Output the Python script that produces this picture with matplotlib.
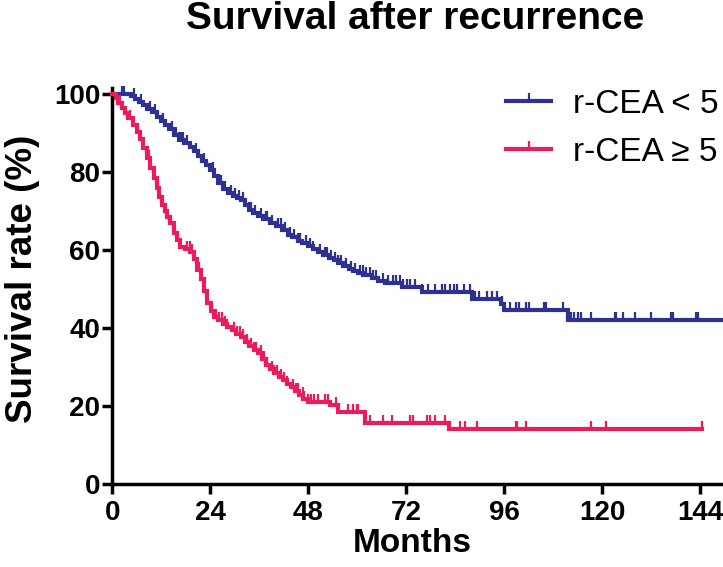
import matplotlib
matplotlib.use('Agg')
import matplotlib.pyplot as plt
from matplotlib import font_manager
import numpy as np

# Kaplan-Meier steps (months, % surviving)
low_t = [0, 4.5, 5.5, 6.5, 7.5, 8.5, 9.7, 11, 12, 13, 14, 15, 16.3, 17.5, 19, 20, 21, 22, 23, 24,
         25, 26, 27, 28.3, 29.5, 30.5, 31.5, 32.5, 33.5, 34.5, 35.6, 37, 38.5, 40, 41.5, 43, 44,
         45.4, 46.5, 48, 49.2, 50.3, 51.5, 53, 54.2, 55.3, 56.5, 58, 59, 60.2, 61.5, 63.5, 65,
         66.7, 71, 75.8, 88.1, 95.2, 96, 111.5, 149.5]
low_s = [100, 99.5, 98.8, 98.0, 97.2, 96.3, 95.5, 94.2, 93.2, 92.1, 91, 89.6, 88.3, 87.5, 86.6,
         85.5, 84.2, 83, 81.9, 80.6, 79, 77.2, 75.8, 74.8, 74, 73.3, 72.9, 71.6, 70.3, 69.6, 68.9,
         68, 67.1, 66.2, 65.2, 64, 63.3, 62.5, 61.8, 61.1, 60.3, 59.6, 58.8, 58.1, 57.4, 56.8,
         56, 55.2, 54.6, 54.1, 53.6, 52.8, 52, 51.5, 50.7, 49.2, 47.4, 46.2, 44.8, 42.1, 42.1]
low_cens = [2.3, 2.8, 5.2, 7, 9.3, 10.4, 12.5, 14.5, 15.6, 16.4, 16.9, 17.4, 18.2, 20.5, 22.4,
            24.6, 26.5, 27.6, 29, 30, 31, 32, 33.5, 34, 35, 36.3, 37.7, 38, 39.2, 40.6, 41.3,
            42.2, 43.5, 44.6, 45.5, 46, 47.5, 48.5, 49.2, 50.8, 52, 52.5, 53.6, 54.6, 55.3, 56,
            57.2, 58.5, 59.5, 60.6, 61.4, 62.2, 63.1, 63.9, 64.5, 66.3, 67.5, 68.8, 69.5, 70.4,
            71.3, 72.1, 73, 74.1, 75.8, 77.4, 79, 80.7, 81.5, 82.8, 83.6, 84.4, 86, 87.7, 88.9,
            89.7, 91.7, 93, 94.2, 95.5, 97.5, 98.8, 99.6, 101.3, 102.1, 105.8, 106.2, 110.3,
            112.3, 113.1, 114, 114.8, 117.2, 123, 123.4, 125, 127.9, 132, 136.9, 137.3, 143, 143.4]

high_t = [0, 0.8, 1.5, 2.3, 3, 3.9, 5, 6, 6.8, 7.6, 8.4, 9.3, 10.1, 10.9, 11.5, 12.2, 12.8, 13.4,
          14.2, 15, 15.8, 16.7, 17.8, 19.1, 20, 20.8, 21.6, 22.5, 23.3, 24.1, 24.9, 26, 27.1, 28.2,
          29.3, 30.4, 31.5, 32.5, 33.5, 34.6, 35.6, 36.6, 37.6, 38.7, 39.7, 40.7, 41.7, 42.8, 43.8,
          44.8, 45.8, 46.8, 47.8, 53.2, 55.3, 61.8, 82.4, 144.3]
high_s = [100, 99, 97.8, 96.6, 95.3, 93.8, 92, 90.4, 88.5, 86.2, 83.6, 81, 78.4, 75.9, 73.7, 71.6,
          70, 68.6, 66.9, 64.5, 62.6, 60.9, 60.2, 59.6, 57.8, 54.9, 52.7, 49.5, 46.4, 44.4, 43, 42,
          41.2, 40.4, 39.6, 38.6, 37.8, 36.6, 35.4, 34.5, 33.6, 32.2, 30.6, 29.6, 28.5, 27.6, 26.7,
          25.8, 25, 24, 22.8, 21.8, 21.2, 20.3, 18.6, 15.6, 14.2, 14.2]
high_cens = [2, 4.4, 6.4, 9, 11.2, 14.2, 16, 18.3, 19, 19.5, 21.2, 24.4, 25.3, 26.1, 26.9, 27.5,
             28.2, 29.8, 30.6, 31.2, 31.9, 33.1, 34, 34.7, 35.3, 36.4, 37.1, 38, 39, 39.7, 40.3,
             41.3, 42, 42.9, 44.2, 45, 45.4, 46.6, 47, 47.9, 48.7, 49.5, 50.3, 52, 52.8, 54.8,
             57.7, 58.9, 59.8, 60.2, 63.1, 66.3, 68.4, 72.9, 73.7, 77, 77.8, 79.1, 81.5, 85.2,
             86.4, 89.3, 98.8, 99.2, 101.3, 117.2, 120.9, 144.3]

labels = ['r-CEA < 5', 'r-CEA \u2265 5']
colors = ['#2E3192', '#EC1C5B']

plt.rcParams['font.family'] = ['Liberation Sans', 'DejaVu Sans']
installed = {f.name for f in font_manager.fontManager.ttflist}
if 'Liberation Sans Narrow' in installed:
    tick_font, tick_size = ['Liberation Sans Narrow', 'Liberation Sans'], 23
else:
    tick_font, tick_size = ['Liberation Sans', 'DejaVu Sans'], 20

fig = plt.figure(figsize=(7.23, 5.67), dpi=100)
ax = fig.add_axes([112.3 / 723, 82.7 / 567, 609.7 / 723, 396.3 / 567])

tick = [(0, 0), (0, 1)]
series = [(low_t, low_s, low_cens), (high_t, high_s, high_cens)]
for (t, s, cens), lab, col in zip(series, labels, colors):
    t = np.array(t)
    s = np.array(s)
    ax.plot(t, s, drawstyle='steps-post', color=col, lw=3.0, solid_joinstyle='miter',
            clip_on=False, zorder=3)
    c = np.array(cens)
    cy = s[np.searchsorted(t, c, side='right') - 1]
    ax.plot(c, cy, ls='none', marker=tick, ms=12, mew=1.6, color=col, clip_on=False, zorder=3)
    # legend proxy: line with one censor tick in the middle
    ax.plot([], [], color=col, lw=3.0, marker=tick, ms=12, mew=1.6, label=lab)

ax.set_xlim(0, 149.3)
ax.set_ylim(0, 101.6)
ax.set_xticks([0, 24, 48, 72, 96, 120, 144])
ax.set_yticks([0, 20, 40, 60, 80, 100])
for side in ['top', 'right']:
    ax.spines[side].set_visible(False)
for side in ['left', 'bottom']:
    ax.spines[side].set_linewidth(2.5)
ax.tick_params(width=2.5, length=7)
ax.tick_params(axis='y', pad=1.5)
ax.tick_params(axis='x', pad=4.5)
for lbl in ax.get_xticklabels() + ax.get_yticklabels():
    lbl.set_fontweight('bold')
    lbl.set_family(tick_font)
    lbl.set_fontsize(tick_size)

fig.text(0.574, 0.966, 'Survival after recurrence', ha='center', va='center',
         fontsize=28, fontweight='bold')
fig.text(0.031, 0.508, 'Survival rate (%)', ha='center', va='center', rotation=90,
         fontsize=26.5, fontweight='bold')
fig.text(0.570, 0.041, 'Months', ha='center', va='center', fontsize=24, fontweight='bold')

fig.legend(loc='upper left', bbox_to_anchor=(506 / 723, 1 - 89 / 567), frameon=False,
           fontsize=24, numpoints=1, handlelength=1.35, handletextpad=0.65, labelspacing=0.5,
           borderpad=0, borderaxespad=0)

fig.savefig('out.png', dpi=100)
